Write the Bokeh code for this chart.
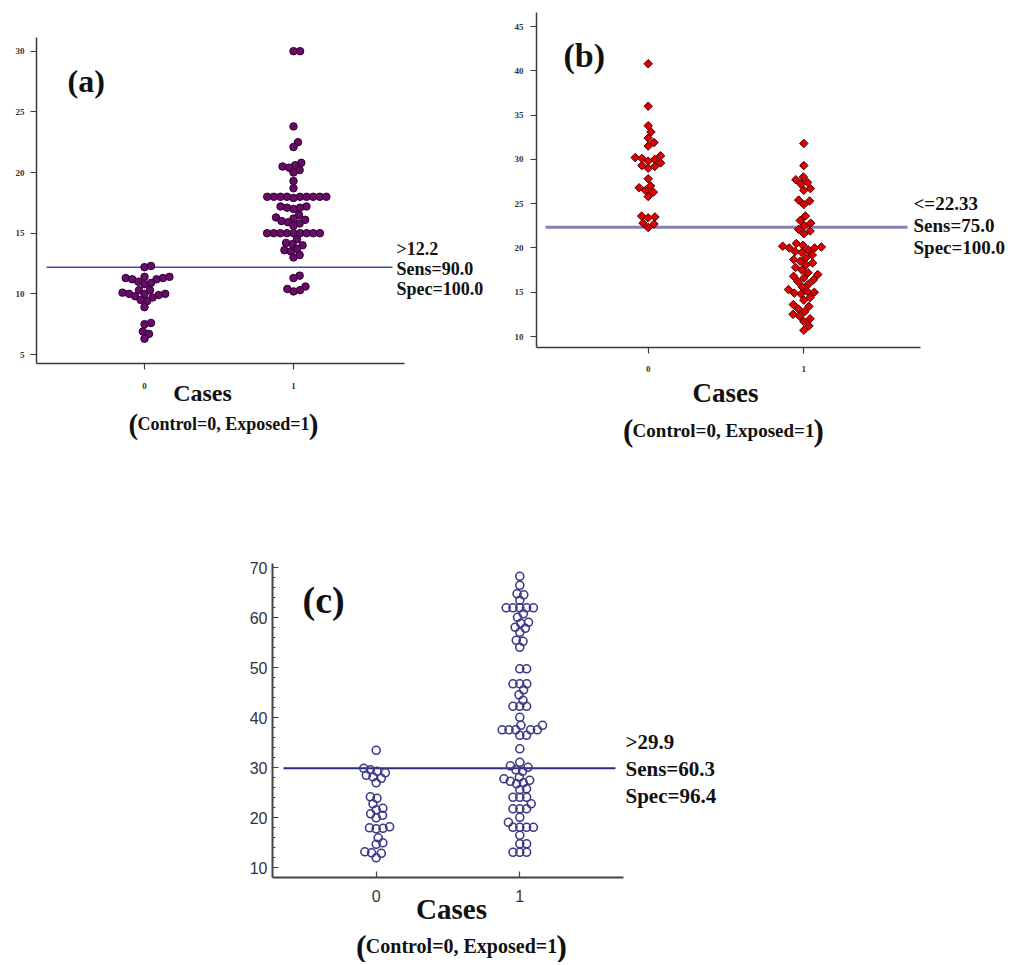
import math
from bokeh.plotting import figure
from bokeh.models import Label, FixedTicker, Spacer
from bokeh.layouts import column, row
from bokeh.embed import file_html
from bokeh.resources import INLINE

# ---------------- data ----------------
categories = ["0", "1"]

a_control = [12.2, 12.3, 11.2, 11.3, 11.4, 11.4, 11.3, 11.2, 11.0, 10.9, 10.8,
             10.3, 10.3, 10.0, 10.0, 10.1, 10.0, 9.9, 9.7, 9.8, 9.4, 9.5, 8.9,
             7.6, 7.5, 6.9, 6.7, 6.3]
a_exposed = [30.0, 30.0, 23.8, 22.5, 22.1, 20.8, 20.6, 20.5, 20.4, 20.2, 20.0,
             19.3, 18.7, 18.0, 18.0, 18.0, 18.0, 18.0, 18.0, 18.0, 18.0, 18.0,
             17.9, 17.2, 17.1, 17.1, 17.2, 17.0, 16.5, 16.3, 16.2, 16.0, 15.9,
             15.8, 16.1, 15.6, 15.0, 15.0, 15.0, 15.0, 15.0, 15.0, 15.0, 15.0,
             15.0, 14.5, 14.2, 14.0, 14.1, 13.7, 13.6, 13.5, 13.2, 13.0,
             11.5, 11.3, 10.6, 10.4, 10.3, 10.2]
a_cutoff = 12.2
a_stats = [">12.2", "Sens=90.0", "Spec=100.0"]
a_yticks = [5, 10, 15, 20, 25, 30]

b_control = [40.8, 36.0, 33.8, 33.1, 32.4, 31.9, 31.5, 30.4, 30.2, 30.1, 30.0,
             29.8, 29.6, 29.3, 29.2, 29.0, 27.8, 27.0, 26.8, 26.5, 26.3, 25.8,
             23.6, 23.5, 23.4, 22.8, 22.7, 22.3]
b_exposed = [31.8, 29.3, 28.0, 27.7, 27.4, 27.2, 26.7, 26.5, 25.4, 25.3, 24.9,
             23.6, 23.1, 22.8, 22.5,
             22.1, 21.9, 21.6, 20.5, 20.3, 20.2, 20.1, 20.0, 20.0, 19.8, 19.6,
             19.5, 19.2, 18.9, 18.7, 18.5, 18.3, 18.1, 17.8, 17.5, 17.2, 17.0,
             16.8, 16.6, 16.4, 16.2, 15.9, 15.6, 15.3, 15.1, 15.0, 14.9, 14.8,
             14.4, 14.1, 13.6, 13.4, 13.1, 12.8, 12.5, 12.3, 12.0, 11.7, 11.2,
             10.7]
b_cutoff = 22.33
b_stats = ["<=22.33", "Sens=75.0", "Spec=100.0"]
b_yticks = [10, 15, 20, 25, 30, 35, 40, 45]

c_control = [33.5, 29.9, 29.6, 29.3, 29.0, 28.5, 28.2, 27.9, 27.0, 24.2, 23.9,
             22.8, 21.9, 21.6, 20.8, 20.5, 20.0, 18.2, 18.0, 17.9, 17.8, 16.0,
             15.0, 14.7, 13.2, 13.0, 12.9, 12.0]
c_exposed = [68.3, 66.5, 64.8, 64.6, 63.5, 62.0, 62.0, 62.0, 62.0, 62.0, 60.8,
             60.1, 59.1, 58.9, 58.1, 57.9, 57.1, 55.5, 55.3, 54.1, 49.8, 49.8,
             46.8, 46.8, 46.8, 45.6, 44.6, 43.5, 42.3, 42.3, 42.3, 40.1, 38.5,
             38.5, 37.6, 37.6, 37.6, 37.6, 37.6, 36.5, 36.5, 33.8, 31.1, 30.4,
             30.1,
             29.6, 29.3, 28.1, 27.8, 27.5, 27.3, 27.0, 26.8, 25.8, 25.6, 24.1,
             24.1, 24.1, 22.8, 21.8, 21.8, 21.8, 20.1, 19.1, 18.1, 18.1, 18.1,
             18.1, 16.5, 14.8, 14.8, 13.1, 13.1, 13.1]
c_cutoff = 29.9
c_stats = [">29.9", "Sens=60.3", "Spec=96.4"]
c_yticks = [10, 20, 30, 40, 50, 60, 70]
c_yminor = list(range(10, 71, 2))

x_title = "Cases"
x_sub = "Control=0, Exposed=1"

SERIF = "Liberation Serif"


class Geo:
    """Maps page pixels of one panel to its data coordinates."""

    def __init__(self, cx, cy, w, h, c0, c1, va, pya, vb, pyb, L, R, T, B):
        self.cx, self.cy, self.w, self.h = cx, cy, w, h
        self.c0 = c0
        self.ppx = (c1 - c0)
        self.vb, self.pyb = vb, pyb
        self.ppy = (pyb - pya) / (va - vb)
        self.L, self.R, self.T, self.B = L, R, T, B

    def x(self, px):
        return (px - self.c0) / self.ppx

    def y(self, py):
        return self.vb + (self.pyb - py) / self.ppy


def swarm(vals, ppy, d):
    """Beeswarm offsets (px) so that markers of diameter d do not overlap."""
    order = sorted(range(len(vals)), key=lambda i: vals[i])
    placed = []
    xs = [0.0] * len(vals)
    for i in order:
        y = vals[i] * ppy
        near = [(px, py) for px, py in placed if abs(py - y) < d]
        cands = [0.0]
        for px, py in near:
            ddx = math.sqrt(max(d * d - (py - y) ** 2, 0.0))
            cands += [px + ddx, px - ddx]
        cands.sort(key=lambda c: (round(abs(c), 3), c < 0))
        for c in cands:
            if all((c - px) ** 2 + (y - py) ** 2 >= d * d - 1e-6 for px, py in near):
                xs[i] = c
                break
        placed.append((xs[i], y))
    return xs


def make_panel(g):
    p = figure(width=g.w, height=g.h,
               x_range=(g.x(g.cx), g.x(g.cx + g.w)),
               y_range=(g.y(g.cy + g.h), g.y(g.cy)),
               output_backend="svg", toolbar_location=None,
               min_border_left=0, min_border_right=0,
               min_border_top=0, min_border_bottom=0)
    p.outline_line_color = None
    p.xgrid.visible = False
    p.ygrid.visible = False
    p.background_fill_color = "white"
    p.border_fill_color = "white"
    # axes drawn at the reference positions, limited to the reference extents
    p.xaxis.fixed_location = g.y(g.B)
    p.xaxis.bounds = (g.x(g.L), g.x(g.R))
    p.yaxis.fixed_location = g.x(g.L)
    p.yaxis.bounds = (g.y(g.B), g.y(g.T))
    return p


def add_text(p, g, px, py, text, size, align="left", bold=True, font=SERIF, color="#111111"):
    p.add_layout(Label(x=g.x(px), y=g.y(py), text=text, text_font=font,
                       text_font_size=f"{size}px",
                       text_font_style="bold" if bold else "normal",
                       text_align=align, text_baseline="middle", text_color=color))


def add_points(p, g, groups, d, **kw):
    for gi, vals in enumerate(groups):
        offs = swarm(vals, g.ppy, d)
        xs = [gi + o / g.ppx for o in offs]
        p.scatter(xs, vals, **kw)


def style_axes(p, yticks, tick_font, tick_size, tick_bold, axis_color,
               axis_width, inward=False, yminor=None, xstand=12, ystand=6):
    p.xaxis.ticker = FixedTicker(ticks=[0, 1])
    p.xaxis.major_label_overrides = {0: categories[0], 1: categories[1]}
    if yminor:
        p.yaxis.ticker = FixedTicker(ticks=yticks, minor_ticks=yminor)
    else:
        p.yaxis.ticker = FixedTicker(ticks=yticks)
    for ax in (p.xaxis, p.yaxis):
        ax.axis_line_color = axis_color
        ax.axis_line_width = axis_width
        ax.major_tick_line_color = axis_color
        ax.minor_tick_line_color = axis_color
        ax.major_tick_line_width = 1.2
        ax.major_label_text_font = tick_font
        ax.major_label_text_font_size = f"{tick_size}px"
        ax.major_label_text_font_style = "bold" if tick_bold else "normal"
        ax.major_label_text_color = "#333333"
        if inward:
            ax.major_tick_in = 6
            ax.major_tick_out = 0
            ax.minor_tick_in = 3
            ax.minor_tick_out = 0
        else:
            ax.major_tick_in = 0
            ax.major_tick_out = 6
            ax.minor_tick_in = 0
            ax.minor_tick_out = 0
    p.xaxis.major_label_standoff = xstand
    p.yaxis.major_label_standoff = ystand


def add_sub(p, g, cx, cy, size, psize):
    w = 9.585 * size
    add_text(p, g, cx, cy, x_sub, size, align="center")
    add_text(p, g, cx - w / 2 + 1, cy, "(", psize, align="right", bold=True)
    add_text(p, g, cx + w / 2 - 1, cy, ")", psize, align="left", bold=True)


# ---------------- panel (a) ----------------
ga = Geo(0, 0, 500, 450, 144, 293, 30, 50.7, 5, 354, 36, 404, 37, 363)
pa = make_panel(ga)
style_axes(pa, a_yticks, SERIF, 9, True, "#3a3a3a", 1.5, xstand=13, ystand=6)
pa.segment(x0=[ga.x(46)], y0=[a_cutoff], x1=[ga.x(392)], y1=[a_cutoff],
           line_color="#4b4baa", line_width=1.5)
add_points(pa, ga, [a_control, a_exposed], 6.6, marker="circle", size=7.5,
           fill_color="#6a0a6a", line_color="#2b002b", line_width=1)
add_text(pa, ga, 67, 80, "(a)", 32)
for i, s in enumerate(a_stats):
    add_text(pa, ga, 396, 248 + 20 * i, s, 18)
add_text(pa, ga, 202, 392, x_title, 24, align="center")
add_sub(pa, ga, 223, 423, 18, 29)

# ---------------- panel (b) ----------------
gb = Geo(500, 0, 510, 450, 647.7, 803.3, 45, 26, 10, 336, 536, 920, 12, 347)
pb = make_panel(gb)
style_axes(pb, b_yticks, SERIF, 9, True, "#3a3a3a", 1.5, xstand=12, ystand=7)
pb.segment(x0=[gb.x(545)], y0=[b_cutoff], x1=[gb.x(907)], y1=[b_cutoff],
           line_color="#8282b4", line_width=3)
add_points(pb, gb, [b_control, b_exposed], 6.8, marker="square", angle=math.pi / 4,
           size=6, fill_color="#e00000", line_color="#4a0000", line_width=1)
add_text(pb, gb, 563, 55, "(b)", 34)
for i, s in enumerate(b_stats):
    add_text(pb, gb, 913, 203 + 22 * i, s, 19)
add_text(pb, gb, 725, 392, x_title, 27, align="center")
add_sub(pb, gb, 723, 430, 19, 31)

# ---------------- panel (c) ----------------
gc = Geo(220, 450, 600, 512, 375.7, 519.3, 70, 567.3, 10, 867.3, 272, 623, 563, 877)
pc = make_panel(gc)
style_axes(pc, c_yticks, "Liberation Sans", 16, False, "#444444", 2,
           inward=True, yminor=c_yminor, xstand=12, ystand=5)
pc.segment(x0=[gc.x(283)], y0=[c_cutoff], x1=[gc.x(615)], y1=[c_cutoff],
           line_color="#2e2e7a", line_width=2)
add_points(pc, gc, [c_control, c_exposed], 6.8, marker="circle", size=8,
           fill_color=None, line_color="#3a3a86", line_width=1.6)
add_text(pc, gc, 302, 599, "(c)", 38)
for i, s in enumerate(c_stats):
    add_text(pc, gc, 625, 741 + 27 * i, s, 21)
add_text(pc, gc, 451, 908, x_title, 29, align="center")
add_sub(pc, gc, 461, 945, 20, 32)

layout = column(row(pa, pb), row(Spacer(width=220, height=10), pc))
open("out.html", "w").write(file_html(layout, INLINE))
